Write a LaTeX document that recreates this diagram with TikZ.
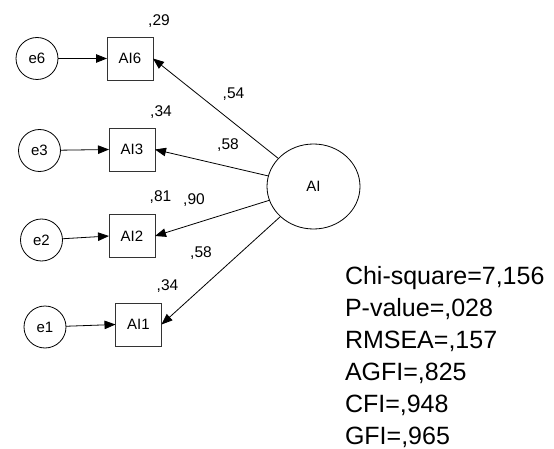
\documentclass[tikz,border=0pt]{standalone}
\usepackage{fontspec}
\setmainfont{Liberation Sans}
\usetikzlibrary{shapes.geometric,arrows.meta}
\begin{document}
\begin{tikzpicture}[x=1pt,y=-1pt,
  every node/.style={inner sep=0pt,outer sep=0pt},
  errc/.style={circle,draw,line width=0.8pt,minimum size=42pt,font=\fontsize{15}{18}\selectfont},
  obsbox/.style={rectangle,draw=black!80,line width=0.8pt,minimum width=46pt,minimum height=43pt,font=\fontsize{15}{18}\selectfont},
  latent/.style={ellipse,draw,line width=0.8pt,minimum width=93pt,minimum height=85pt,font=\fontsize{15}{18}\selectfont},
  lbl/.style={font=\fontsize{15.5}{18}\selectfont},
  stat/.style={anchor=base west,font=\fontsize{25}{30}\selectfont},
  arr/.style={line width=0.8pt,-{Triangle[length=11pt,width=8.5pt]}}]
\path[use as bounding box] (0,0) rectangle (554,449);

\node[errc] (e6) at (37,58.5) {e6};
\node[errc] (e3) at (39.5,150.5) {e3};
\node[errc] (e2) at (41.5,240) {e2};
\node[errc] (e1) at (45,327) {e1};

\node[obsbox] (AI6) at (130,58.5) {AI6};
\node[obsbox] (AI3) at (132,149.5) {AI3};
\node[obsbox] (AI2) at (132,236) {AI2};
\node[obsbox] (AI1) at (138.5,324.5) {AI1};

\node[latent] (AI) at (313.5,186.5) {AI};

\draw[arr] (e6) -- (AI6.west);
\draw[arr] (e3) -- (AI3.west);
\draw[arr] (e2) -- (AI2.west);
\draw[arr] (e1) -- (AI1.west);

\draw[arr] (AI) -- (AI6.east);
\draw[arr] (AI) -- (AI3.east);
\draw[arr] (AI) -- (AI2.east);
\draw[arr] (AI) -- (AI1.east);

\node[lbl] (r6) at (159,21) {,29};
\node[lbl] (r3) at (161,112.5) {,34};
\node[lbl] (r2) at (160.5,197.5) {,81};
\node[lbl] (r1) at (167.5,286) {,34};

\node[lbl] (w6) at (233.5,94) {,54};
\node[lbl] (w3) at (228,145) {,58};
\node[lbl] (w2) at (194,200) {,90};
\node[lbl] (w1) at (201,253.5) {,58};

\node[stat] (s1) at (345,284) {Chi-square=7,156};
\node[stat] (s2) at (345,316) {P-value=,028};
\node[stat] (s3) at (345,348) {RMSEA=,157};
\node[stat] (s4) at (345,380) {AGFI=,825};
\node[stat] (s5) at (345,412) {CFI=,948};
\node[stat] (s6) at (345,444) {GFI=,965};
\end{tikzpicture}
\end{document}
